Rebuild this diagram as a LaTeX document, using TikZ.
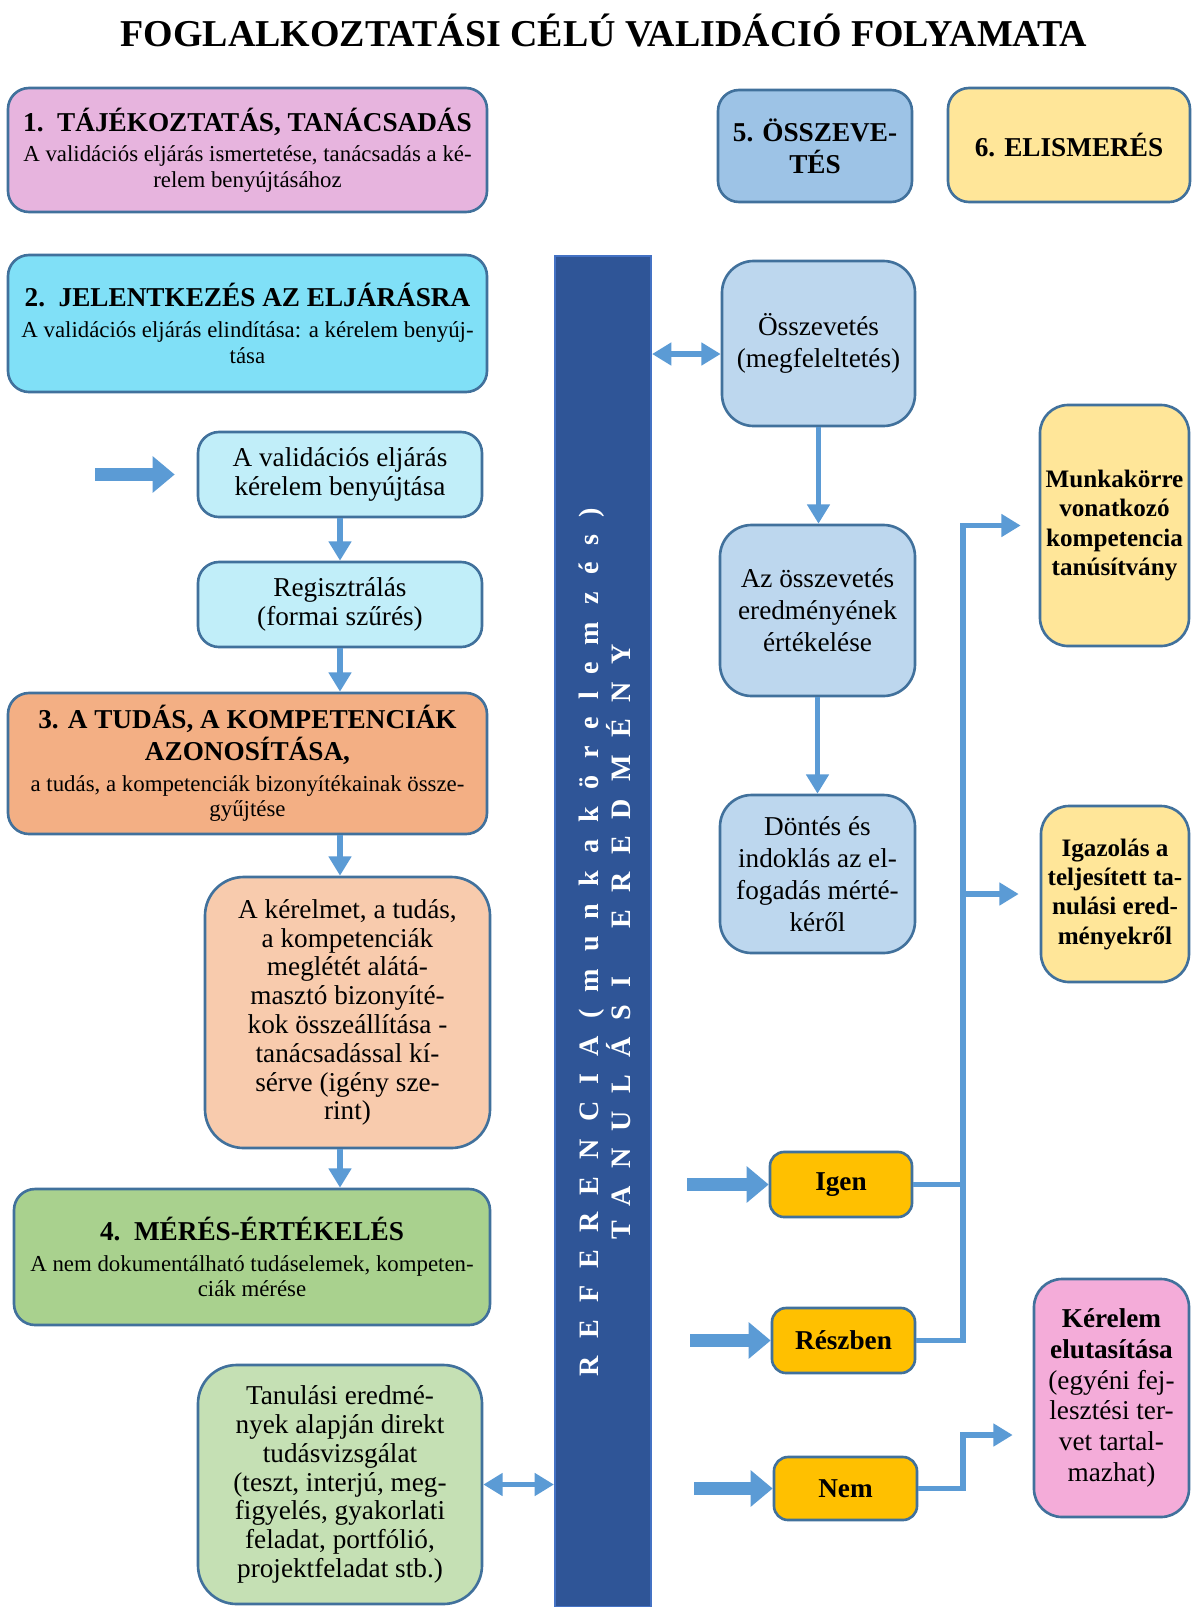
\documentclass[tikz,border=0pt]{standalone}
\usepackage{fontspec}
\setmainfont{Liberation Serif}
\newfontfamily\barfont[LetterSpace=61]{Liberation Serif}
\usetikzlibrary{arrows.meta}

\definecolor{bordc}{HTML}{41719C}
\definecolor{arrc}{HTML}{5B9BD5}
\definecolor{pinkA}{HTML}{E7B4DE}
\definecolor{cyanA}{HTML}{80E0F7}
\definecolor{cyanB}{HTML}{C1EEF9}
\definecolor{orA}{HTML}{F3AF84}
\definecolor{orB}{HTML}{F8CBAD}
\definecolor{grA}{HTML}{A9D18E}
\definecolor{grB}{HTML}{C5E0B4}
\definecolor{blA}{HTML}{9DC3E6}
\definecolor{blB}{HTML}{BDD7EE}
\definecolor{ylA}{HTML}{FFE699}
\definecolor{gold}{HTML}{FFC000}
\definecolor{pinkB}{HTML}{F4ACD9}
\definecolor{barc}{HTML}{2F5597}
\definecolor{barb}{HTML}{4472C4}

\newcommand\headf{\fontsize{15.5}{17}\selectfont\bfseries}
\newcommand\bodyf{\fontsize{13}{14.5}\selectfont}
\newcommand\midf{\fontsize{15.5}{16.4}\selectfont}
\newcommand\rightf{\fontsize{15.5}{18.2}\selectfont}
\newcommand\yelf{\fontsize{14.3}{16.7}\selectfont\bfseries}
\newcommand\capf{\fontsize{15.5}{18}\selectfont\bfseries}

\tikzset{
  box/.style={draw=bordc, line width=1.5pt, rounded corners=#1, align=center, inner sep=0pt},
  box/.default=12pt,
  wh/.style 2 args={minimum width=#1*0.02cm, minimum height=#2*0.02cm},
  conn/.style={draw=arrc, line width=3pt, -{Triangle[width=12.5pt,length=11pt]}},
  dbl/.style={conn, {Triangle[width=12.5pt,length=11pt]}-{Triangle[width=12.5pt,length=11pt]}},
  fat/.style={draw=arrc, line width=7.4pt, -{Triangle[width=20pt,length=12.5pt]}},
  wire/.style={draw=arrc, line width=3pt}
}

\begin{document}
\begin{tikzpicture}[x=0.02cm, y=-0.02cm]
  \fill[white] (0,0) rectangle (1192,1607);
  \useasboundingbox (0,0) rectangle (1192,1607);

  \node[anchor=base, font=\fontsize{21.6}{24}\selectfont\bfseries] (title) at (604,46)
    {FOGLALKOZTATÁSI CÉLÚ VALIDÁCIÓ FOLYAMATA};

  \node[box, wh={479}{124}, fill=pinkA, font=\bodyf] (s1) at (247.5,150)
    {{\headf 1.~~TÁJÉKOZTATÁS, TANÁCSADÁS}\\[3pt]
     A validációs eljárás ismertetése, tanácsadás a ké-\\relem benyújtásához};
  \node[box, wh={479}{137}, fill=cyanA, font=\bodyf] (s2) at (247.5,323.5)
    {{\headf 2.~~JELENTKEZÉS AZ ELJÁRÁSRA}\\[3pt]
     A validációs eljárás elindítása: a kérelem benyúj-\\tása};
  \node[box, wh={284}{85}, fill=cyanB, font=\midf] (kerelem) at (340,474.5)
    {A validációs eljárás\\kérelem benyújtása};
  \node[box, wh={284}{85}, fill=cyanB, font=\midf] (reg) at (340,604.5)
    {Regisztrálás\\(formai szűrés)};
  \node[box, wh={479}{141}, fill=orA, font=\bodyf] (s3) at (247.5,763.5)
    {{\headf 3. A TUDÁS, A KOMPETENCIÁK}\\[1.5pt]{\headf AZONOSÍTÁSA,}\\[3pt]
     a tudás, a kompetenciák bizonyítékainak össze-\\gyűjtése};
  \node[box=22pt, wh={285}{271}, fill=orB, font=\midf] (bizony) at (347.5,1012.5)
    {A kérelmet, a tudás,\\a kompetenciák\\meglétét alátá-\\masztó bizonyíté-\\kok összeállítása -\\tanácsadással kí-\\sérve (igény sze-\\rint)};
  \node[box, wh={476}{136}, fill=grA, font=\bodyf] (s4) at (252,1257)
    {{\headf 4.~~MÉRÉS-ÉRTÉKELÉS}\\[3pt]
     A nem dokumentálható tudáselemek, kompeten-\\ciák mérése};
  \node[box=22pt, wh={284}{239}, fill=grB, font=\midf] (vizsga) at (340,1484.5)
    {Tanulási eredmé-\\nyek alapján direkt\\tudásvizsgálat\\(teszt, interjú, meg-\\figyelés, gyakorlati\\feladat, portfólió,\\projektfeladat stb.)};

  \node[draw=barb, line width=1.2pt, fill=barc, wh={96}{1351}, inner sep=0pt] (bar) at (603,931.5) {};
  \node[rotate=90, align=center, text=white, font=\barfont\fontsize{16}{18.2}\selectfont\bfseries] (bartxt) at (605,942)
    {REFERENCIA(munkakörelemzés)\\TANULÁSI~~EREDMÉNY};

  \node[box, wh={194}{112}, fill=blA, font=\capf] (s5) at (815,146) {5. ÖSSZEVE-\\TÉS};
  \node[box, wh={242}{114}, fill=ylA, font=\capf] (s6) at (1069,145) {6. ELISMERÉS};
  \node[box=18pt, wh={193}{165}, fill=blB, font=\rightf] (ossze) at (818.5,343.5)
    {Összevetés\\(megfeleltetés)};
  \node[box=18pt, wh={195}{171}, fill=blB, font=\rightf] (ertek) at (817.5,610.5)
    {Az összevetés\\eredményének\\értékelése};
  \node[box=18pt, wh={195}{158}, fill=blB, font=\rightf] (dontes) at (817.5,874)
    {Döntés és\\indoklás az el-\\fogadás mérté-\\kéről};

  \node[box=16pt, wh={149}{241}, fill=ylA, font=\yelf] (tanusit) at (1114.5,525.5)
    {Munkakörre\\vonatkozó\\kompetencia\\tanúsítvány};
  \node[box=16pt, wh={148}{176}, fill=ylA, font=\yelf] (igazol) at (1115,894)
    {Igazolás a\\teljesített ta-\\nulási ered-\\ményekről};
  \node[box=16pt, wh={155}{238}, fill=pinkB, font=\fontsize{15.5}{17.5}\selectfont] (elutasit) at (1111.5,1398)
    {\textbf{Kérelem}\\\textbf{elutasítása}\\(egyéni fej-\\lesztési ter-\\vet tartal-\\mazhat)};

  \node[box=8pt, wh={142}{65}, fill=gold, font=\capf] (igen) at (841,1184.5) {Igen};
  \node[box=8pt, wh={143}{65}, fill=gold, font=\capf] (reszben) at (843.5,1340.5) {Részben};
  \node[box=8pt, wh={143}{63}, fill=gold, font=\capf] (nem) at (845.5,1488.5) {Nem};

  \coordinate (inK) at (95,474.5);
  \coordinate (inI) at (687,1184.5);
  \coordinate (inR) at (690,1340.5);
  \coordinate (inN) at (694,1488.5);
  \coordinate (tap) at (700,354);
  \coordinate (jx) at (963,0);
  \coordinate (nemup) at (0,1435);

  \draw[fat, shorten >=0.44cm] (inK) -- (kerelem.west);
  \draw[fat] (inI) -- (igen.west);
  \draw[fat] (inR) -- (reszben.west);
  \draw[fat] (inN) -- (nem.west);

  \draw[conn] (kerelem.south) -- (kerelem.south |- reg.north);
  \draw[conn] (reg.south) -- (reg.south |- s3.north);
  \draw[conn] (reg.south |- s3.south) -- (reg.south |- bizony.north);
  \draw[conn] (reg.south |- bizony.south) -- (reg.south |- s4.north);
  \draw[dbl] (vizsga.east) -- (vizsga.east -| bar.west);
  \draw[dbl] (tap -| bar.east) -- (tap -| ossze.west);
  \draw[conn] (ossze.south) -- (ossze.south |- ertek.north);
  \draw[conn] (ertek.south) -- (ertek.south |- dontes.north);

  \draw[wire] (igen.east) -- (igen.east -| jx);
  \draw[conn, shorten >=0.36cm] (reszben.east) -- (reszben.east -| jx) -- (jx |- tanusit.west) -- (tanusit.west);
  \draw[conn, shorten >=0.42cm] (jx |- igazol.west) -- (igazol.west);
  \draw[conn, shorten >=0.4cm] (nem.east) -- (nem.east -| jx) -- (jx |- nemup) -- (nemup -| elutasit.west);
\end{tikzpicture}
\end{document}
